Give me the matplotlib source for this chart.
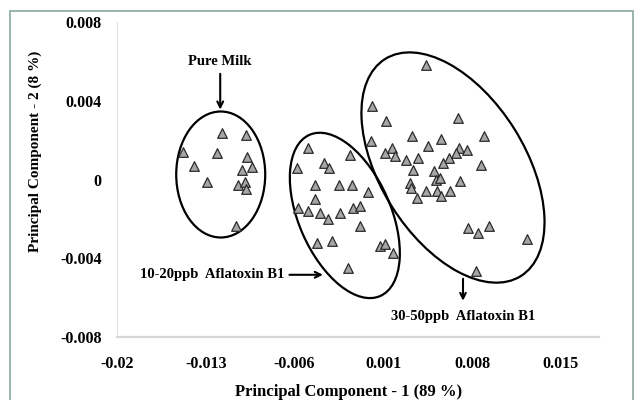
import matplotlib.pyplot as plt
from matplotlib.patches import Ellipse, Rectangle
from matplotlib import transforms

plt.rcParams['font.family'] = 'Liberation Serif'
plt.rcParams['font.weight'] = 'bold'
plt.rcParams['axes.unicode_minus'] = False

# PCA scores (PC1, PC2) for each sample group
pure_x = [-0.01173, -0.00982, -0.01479, -0.01212, -0.01396, -0.00976, -0.01015,
          -0.00937, -0.01291, -0.01042, -0.00989, -0.00981, -0.0106]
pure_y = [0.002368, 0.002282, 0.001384, 0.001354, 0.00071, 0.00115, 0.000507,
          0.000644, -0.000137, -0.000254, -0.000137, -0.000507, -0.002368]

low_x = [-0.00492, -0.00164, -0.00583, -0.00368, -0.00326, -0.00439, -0.00248,
         -0.0015, -0.0002, -0.00439, -0.0057, -0.00492, -0.004, -0.00334,
         -0.00242, -0.00138, -0.00085, -0.0008, -0.00425, -0.00307, 0.00072,
         0.00112, 0.00177, -0.00177]
low_y = [0.001607, 0.001268, 0.000593, 0.000847, 0.000593, -0.000254, -0.000304,
         -0.000254, -0.000644, -0.001014, -0.001435, -0.001607, -0.001688,
         -0.002028, -0.001688, -0.001435, -0.001354, -0.002368, -0.003209,
         -0.003128, -0.003382, -0.003296, -0.003716, -0.004477]

high_x = [0.0044, 0.00015, 0.00125, 0.00688, 0.00007, 0.00898, 0.0033, 0.00558,
          0.00452, 0.00112, 0.00172, 0.0019, 0.00282, 0.00374, 0.00696, 0.00759,
          0.00676, 0.00618, 0.0057, 0.00872, 0.00334, 0.00497, 0.00513, 0.00308,
          0.00544, 0.00707, 0.00322, 0.0044, 0.00523, 0.00623, 0.00366, 0.00558,
          0.00767, 0.00846, 0.00938, 0.01231, 0.00828]
high_y = [0.00583, 0.003716, 0.002956, 0.003128, 0.001942, 0.002195, 0.002195,
          0.002063, 0.001724, 0.001354, 0.001607, 0.001181, 0.001014, 0.0011,
          0.001607, 0.001521, 0.001354, 0.0011, 0.000847, 0.000761, 0.000507,
          0.000421, 0.0, -0.000167, 0.0001, -0.000086, -0.000421, -0.000593,
          -0.000593, -0.000593, -0.000928, -0.000847, -0.002449, -0.002702,
          -0.002368, -0.003007, -0.004649]

xticks = [-0.02, -0.013, -0.006, 0.001, 0.008, 0.015]
yticks = [-0.008, -0.004, 0, 0.004, 0.008]

fig = plt.figure(figsize=(6.37, 4.0), dpi=100)
ax = fig.add_axes([0.1837, 0.1575, 0.7563, 0.7875])

for xs, ys in [(pure_x, pure_y), (low_x, low_y), (high_x, high_y)]:
    ax.scatter(xs, ys, marker='^', s=48, facecolor='#a6a6a6',
               edgecolor='#2b2b2b', linewidth=0.9, zorder=3)

ax.set_xlim(-0.02, 0.018)
ax.set_ylim(-0.008, 0.008)
ax.set_xticks(xticks)
ax.set_xticklabels([f'{v:g}' for v in xticks])
ax.set_yticks(yticks)
ax.set_yticklabels([f'{v:g}' for v in yticks])
ax.tick_params(length=0, labelsize=11.5)
ax.tick_params(axis='x', pad=14)
ax.tick_params(axis='y', pad=11)

for side in ['top', 'right']:
    ax.spines[side].set_visible(False)
ax.spines['left'].set_color('#e3e3e3')
ax.spines['bottom'].set_color('#d6d6d6')
ax.spines['bottom'].set_linewidth(1.6)

ax.set_xlabel('Principal Component - 1 (89 %)', fontsize=12, fontweight='bold')
ax.set_ylabel('Principal Component - 2 (8 %)', fontsize=11, fontweight='bold')
ax.xaxis.set_label_coords(0.48, -0.15)
ax.yaxis.set_label_coords(-0.155, 0.59)

# group outlines: centre in data units, size in inches, tilt in degrees
groups = [(-0.01182, 0.000254, 0.89, 1.26, 0),
          (-0.00203, -0.001825, 0.92, 1.76, 23.7),
          (0.0065, 0.000608, 1.45, 2.56, 32)]
for cx, cy, w, h, ang in groups:
    trans = fig.dpi_scale_trans + transforms.ScaledTranslation(cx, cy, ax.transData)
    ax.add_patch(Ellipse((0, 0), w, h, angle=ang, transform=trans,
                         fill=False, edgecolor='black', linewidth=1.6, zorder=2))

arrow = dict(arrowstyle='->', color='black', lw=1.5, shrinkA=2, shrinkB=0)
ax.annotate('Pure Milk', xy=(-0.01186, 0.00355), xytext=(-0.01186, 0.00598),
            ha='center', va='center', fontsize=10.5, arrowprops=arrow)
ax.annotate('10-20ppb  Aflatoxin B1', xy=(-0.00376, -0.00484),
            xytext=(-0.01253, -0.00484), ha='center', va='center',
            fontsize=10.5, arrowprops=arrow)
ax.annotate('', xy=(0.00729, -0.0063), xytext=(0.00729, -0.0049),
            arrowprops=dict(arrowstyle='->', color='black', lw=1.5))
ax.text(0.00729, -0.00695, '30-50ppb  Aflatoxin B1', ha='center', va='center',
        fontsize=10.5)

fig.add_artist(Rectangle((10 / 637, -0.01), 623 / 637, 1 - 11 / 400 + 0.01,
                         transform=fig.transFigure, fill=False,
                         edgecolor='#8aa9a1', linewidth=1.2))

fig.savefig('out.png', dpi=100)
